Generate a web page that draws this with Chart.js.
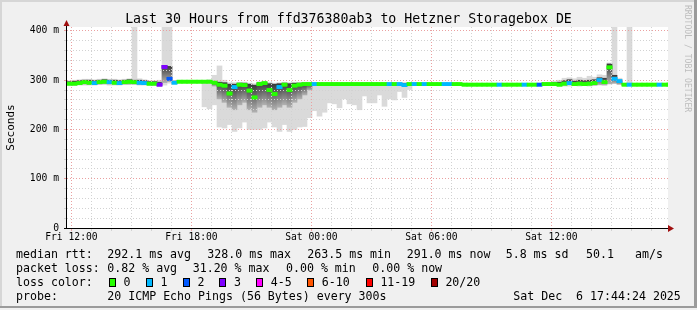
<!DOCTYPE html>
<html>
<head>
<meta charset="utf-8">
<script src="https://cdn.jsdelivr.net/npm/chart.js@4.4.1/dist/chart.umd.min.js"></script>
<style>
html, body { margin: 0; padding: 0; background: #f0f0f0; }
#wrap { position: relative; width: 697px; height: 310px; background: #f0f0f0; overflow: hidden;
        font-family: "DejaVu Sans Mono", monospace; color: #000; }
#wrap canvas { position: absolute; left: 0; top: 0; }
.t { position: absolute; white-space: pre; font-size: 11.6px; line-height: 14px; }
.box { position: absolute; width: 7px; height: 9px; box-sizing: border-box; border: 1px solid #000; }
#title { position: absolute; left: 0; width: 697px; top: 11px; text-align: center; font-size: 13.25px; line-height: 16px; white-space: pre; }
#rrd { position: absolute; left: 683px; top: 5px; font-size: 8.1px; line-height: 10px; color: #bdbdbd; writing-mode: vertical-rl; white-space: pre; }
</style>
</head>
<body>
<div id="wrap">
  <canvas id="myChart" width="697" height="310"></canvas>
  <div id="title">Last 30 Hours from ffd376380ab3 to Hetzner Storagebox DE</div>
  <div id="rrd">RRDTOOL / TOBI OETIKER</div>
  <div id="legend"></div>
  <div style="position:absolute;left:0;top:0;width:697px;height:2px;background:#d6d6d6"></div>
  <div style="position:absolute;left:0;top:0;width:2px;height:308px;background:#d6d6d6"></div>
  <div style="position:absolute;left:694px;top:0;width:3px;height:308px;background:#9b9b9b"></div>
  <div style="position:absolute;left:0;top:306px;width:697px;height:2px;background:#9b9b9b"></div>
</div>
<script>
// time axis in hours since Fri 00:00, one bar = 15 minutes
var startHour = 11.78;
var endHour = 41.83;
var stepHour = 0.25;

var median = [
    293, 293, 294, 296, 295, 294, 296, 297, 296, 295,
    294, 296, 297, 296, 295, 294, 293, 293, 291, 327,
    303, 295, 297, 297, 297, 297, 297, 297, 297, 295,
    291, 289, 273, 286, 291, 290, 279, 265, 292, 294,
    280, 272, 286, 291, 280, 289, 291, 292, 292, 292,
    292, 292, 292, 292, 292, 292, 292, 292, 292, 292,
    292, 292, 292, 292, 292, 292, 292, 290, 292, 292,
    292, 292, 292, 292, 292, 292, 292, 292, 292, 291,
    291, 291, 291, 291, 291, 291, 291, 291, 291, 291,
    291, 291, 291, 291, 291, 292, 292, 292, 291, 293,
    294, 292, 293, 292, 293, 294, 300, 296, 326, 303,
    298, 291, 291, 291, 291, 291, 291, 291, 291, 291,
    291
];

// index into lossColors
var lossClass = [
    0, 0, 0, 0, 0, 1, 0, 0, 1, 0,
    1, 0, 0, 0, 1, 1, 0, 0, 3, 3,
    2, 1, 0, 0, 0, 0, 0, 0, 0, 0,
    0, 0, 0, 1, 0, 0, 0, 0, 0, 0,
    0, 0, 1, 0, 0, 0, 0, 0, 0, 1,
    0, 0, 0, 0, 0, 0, 0, 0, 0, 0,
    0, 0, 0, 0, 1, 0, 1, 1, 0, 1,
    0, 1, 0, 0, 0, 1, 1, 0, 0, 0,
    0, 0, 0, 0, 0, 0, 1, 0, 0, 0,
    0, 1, 0, 0, 2, 0, 0, 0, 0, 0,
    1, 0, 0, 0, 0, 0, 1, 0, 0, 1,
    1, 0, 1, 0, 0, 0, 0, 0, 1, 0,
    0
];

// outer smoke (lowest / highest ping)
var smokeLo = [
    289, 289, 290, 290, 290, 290, 291, 291, 290, 290,
    290, 291, 291, 291, 290, 290, 289, 289, 287, 290,
    294, 293, 295, 295, 295, 295, 295, 246, 242, 250,
    205, 203, 210, 196, 203, 215, 200, 200, 200, 203,
    215, 205, 196, 210, 196, 200, 205, 206, 224, 238,
    227, 235, 254, 252, 244, 262, 252, 250, 240, 268,
    254, 254, 270, 247, 262, 260, 277, 265, 281, 289,
    290, 290, 290, 290, 290, 290, 290, 290, 290, 290,
    289, 289, 289, 289, 289, 289, 289, 289, 289, 289,
    289, 289, 289, 289, 289, 289, 289, 289, 288, 288,
    288, 289, 288, 289, 288, 289, 290, 289, 292, 293,
    291, 289, 289, 289, 289, 289, 289, 289, 289, 289,
    289
];
var smokeHi = [
    299, 300, 301, 302, 302, 301, 302, 303, 302, 302,
    301, 302, 303, 420, 303, 301, 299, 299, 300, 420,
    420, 299, 299, 299, 299, 299, 299, 299, 301, 310,
    329, 300, 295, 295, 296, 296, 294, 293, 297, 297,
    296, 294, 295, 296, 295, 296, 296, 296, 296, 295,
    294, 294, 294, 294, 294, 294, 294, 294, 294, 294,
    294, 294, 294, 294, 294, 294, 294, 294, 294, 294,
    294, 294, 294, 294, 294, 294, 294, 294, 294, 294,
    293, 293, 293, 293, 293, 293, 293, 293, 293, 293,
    293, 293, 293, 293, 293, 295, 296, 298, 300, 304,
    305, 303, 306, 304, 308, 306, 311, 310, 335, 420,
    304, 293, 420, 293, 293, 293, 293, 293, 293, 293,
    293
];

// inner (dark) smoke
var coreLo = [
    291, 291, 291, 292, 291, 291, 292, 293, 292, 292,
    291, 292, 292, 292, 291, 291, 291, 291, 289, 295,
    297, 294, 296, 296, 296, 296, 296, 295, 295, 288,
    262, 255, 245, 240, 250, 255, 240, 235, 245, 250,
    245, 240, 245, 250, 245, 255, 262, 270, 280, 289,
    290, 290, 290, 290, 290, 290, 290, 290, 290, 290,
    290, 290, 290, 290, 290, 290, 290, 290, 290, 290,
    290, 290, 290, 290, 290, 290, 290, 290, 290, 290,
    290, 290, 290, 290, 290, 290, 290, 290, 290, 290,
    290, 290, 290, 290, 290, 290, 290, 290, 290, 290,
    291, 290, 290, 290, 290, 290, 291, 291, 293, 294,
    292, 290, 290, 290, 290, 290, 290, 290, 290, 290,
    290
];
var coreHi = [
    297, 298, 299, 300, 300, 299, 300, 301, 300, 300,
    299, 300, 301, 300, 300, 299, 297, 297, 296, 330,
    328, 298, 298, 298, 298, 298, 298, 298, 298, 297,
    296, 295, 292, 292, 294, 294, 292, 290, 295, 295,
    293, 292, 293, 294, 293, 294, 294, 294, 294, 294,
    294, 294, 294, 294, 294, 294, 294, 294, 294, 294,
    294, 294, 294, 294, 294, 294, 294, 294, 294, 294,
    293, 293, 293, 293, 293, 293, 293, 293, 293, 293,
    293, 293, 293, 293, 293, 293, 293, 293, 293, 293,
    293, 293, 293, 293, 293, 294, 294, 295, 296, 299,
    301, 298, 300, 299, 300, 301, 305, 304, 333, 310,
    300, 293, 293, 293, 293, 293, 293, 293, 293, 293,
    293
];

var lossColors = ['#26ff00', '#00b8ff', '#0059ff', '#7e00ff', '#ff00ff', '#ff5500', '#ff0000', '#a10000'];
var lossLabels = ['0', '1', '2', '3', '4-5', '6-10', '11-19', '20/20'];

var xTickHours = [12, 18, 24, 30, 36];
var xTickLabels = ['Fri 12:00', 'Fri 18:00', 'Sat 00:00', 'Sat 06:00', 'Sat 12:00'];
var yTickValues = [0, 100, 200, 300, 400];
var yTickLabels = ['0', '100 m', '200 m', '300 m', '400 m'];

var statsRtt = ['292.1 ms avg', '328.0 ms max', '263.5 ms min', '291.0 ms now', '5.8 ms sd', '50.1', 'am/s'];
var statsLoss = ['0.82 % avg', '31.20 % max', '0.00 % min', '0.00 % now'];

var gridGrey = '#d2d2d2';
var gridRed = '#eaa0a0';

// ---- legend text (html) ----
var legend = document.getElementById('legend');
function addText(txt, x, y) {
    var s = document.createElement('div');
    s.className = 't';
    s.style.left = x + 'px';
    s.style.top = y + 'px';
    s.textContent = txt;
    legend.appendChild(s);
}
var rttX = [107.3, 207.3, 307.3, 406.7, 505.7, 586, 635];
var lossX = [107.3, 192.7, 286, 372.3];
var boxX = [108.7, 145.7, 182.7, 219.3, 256, 307, 365.7, 430.7];

addText('median rtt:', 16, 246.7);
statsRtt.forEach(function (s, i) { addText(s, rttX[i], 246.7); });
addText('packet loss:', 16, 260.7);
statsLoss.forEach(function (s, i) { addText(s, lossX[i], 260.7); });
addText('loss color:', 16, 274.7);
lossLabels.forEach(function (s, i) {
    var b = document.createElement('div');
    b.className = 'box';
    b.style.left = boxX[i] + 'px';
    b.style.top = '277.7px';
    b.style.background = lossColors[i];
    legend.appendChild(b);
    addText(s, boxX[i] + 14.7, 274.7);
});
addText('probe:', 16, 288.5);
addText('20 ICMP Echo Pings (56 Bytes) every 300s', 107.3, 288.5);
addText('Sat Dec  6 17:44:24 2025', 513.3, 288.5);

// ---- chart ----
var hours = median.map(function (v, i) { return startHour + (i + 0.5) * stepHour; });
function bars(lo, hi) {
    return hours.map(function (h, i) { return { x: h, y: [lo[i], hi[i]] }; });
}
var medLine = hours.map(function (h, i) { return { x: h, y: [median[i] - 3, median[i] + 3] }; });

// dark smoke fades from near-black at the top to mid grey at the bottom
function coreFill(c) {
    var y = c.chart.scales.y;
    var i = c.dataIndex;
    if (!y || i === undefined) return '#707070';
    var p0 = y.getPixelForValue(coreHi[i]);
    var p1 = y.getPixelForValue(coreLo[i]);
    if (!isFinite(p0) || !isFinite(p1) || p0 === p1) return '#707070';
    var g = c.chart.ctx.createLinearGradient(0, p0, 0, p1);
    g.addColorStop(0, '#3a3a3a');
    g.addColorStop(1, '#b0b0b0');
    return g;
}

var frame = {
    id: 'frame',
    beforeDraw: function (chart) {
        var a = chart.chartArea, c = chart.ctx;
        c.save();
        c.fillStyle = '#ffffff';
        c.fillRect(a.left, a.top, a.right - a.left, a.bottom - a.top);
        c.restore();
    },
    afterDraw: function (chart) {
        var a = chart.chartArea, c = chart.ctx;
        // grid sits over the smoke, but the median line stays on top of the grid
        c.save();
        c.beginPath();
        c.rect(a.left, a.top, a.right - a.left, a.bottom - a.top);
        c.clip();
        chart.getDatasetMeta(0).controller.draw();
        c.restore();

        c.save();
        c.strokeStyle = '#000';
        c.lineWidth = 1;
        c.beginPath();
        c.moveTo(a.left - 0.5, a.bottom + 0.5);
        c.lineTo(a.left - 0.5, a.top - 1);
        c.moveTo(a.left - 3, a.bottom + 0.5);
        c.lineTo(a.right, a.bottom + 0.5);
        c.stroke();
        c.fillStyle = '#a01010';
        c.beginPath();
        c.moveTo(a.left - 3.5, a.top - 1);
        c.lineTo(a.left + 2.5, a.top - 1);
        c.lineTo(a.left - 0.5, a.top - 7);
        c.closePath();
        c.fill();
        c.beginPath();
        c.moveTo(a.right, a.bottom - 3);
        c.lineTo(a.right, a.bottom + 4);
        c.lineTo(a.right + 6, a.bottom + 0.5);
        c.closePath();
        c.fill();
        c.restore();
    }
};

Chart.defaults.font.family = '"DejaVu Sans Mono", monospace';
Chart.defaults.color = '#000';

var ctx = document.getElementById('myChart').getContext('2d');
var myChart = new Chart(ctx, {
    type: 'bar',
    data: {
        datasets: [{
            label: 'median',
            data: medLine,
            backgroundColor: lossClass.map(function (k) { return lossColors[k]; }),
            grouped: false,
            order: 0
        }, {
            label: 'core',
            data: bars(coreLo, coreHi),
            backgroundColor: coreFill,
            grouped: false,
            order: 1
        }, {
            label: 'smoke',
            data: bars(smokeLo, smokeHi),
            backgroundColor: '#dadada',
            grouped: false,
            order: 2
        }]
    },
    options: {
        responsive: false,
        animation: false,
        layout: {
            padding: { left: 0, right: 29, top: 27, bottom: 62 }
        },
        datasets: {
            bar: { barPercentage: 1, categoryPercentage: 1, borderWidth: 0 }
        },
        plugins: {
            legend: { display: false },
            tooltip: { enabled: false }
        },
        scales: {
            x: {
                type: 'linear',
                min: startHour,
                max: endHour,
                offset: false,
                afterBuildTicks: function (axis) {
                    var t = [];
                    for (var h = Math.ceil(startHour); h <= endHour; h++) t.push({ value: h });
                    axis.ticks = t;
                },
                afterFit: function (scale) { scale.height = 20; },
                grid: {
                    offset: false,
                    z: 1,
                    tickLength: 3,
                    color: function (c) { return c.tick && c.tick.value % 6 === 0 ? gridRed : gridGrey; },
                    tickColor: function (c) { return c.tick && c.tick.value % 6 === 0 ? gridRed : gridGrey; }
                },
                border: { display: false, dash: [1, 2] },
                ticks: {
                    autoSkip: false,
                    maxRotation: 0,
                    padding: 1,
                    font: { size: 9.7 },
                    callback: function (v) {
                        var k = xTickHours.indexOf(v);
                        return k < 0 ? '' : xTickLabels[k];
                    }
                }
            },
            y: {
                min: 0,
                max: 408,
                afterBuildTicks: function (axis) {
                    var t = [];
                    for (var v = 0; v <= 400; v += 20) t.push({ value: v });
                    axis.ticks = t;
                },
                afterFit: function (scale) { scale.width = 67; },
                grid: {
                    z: 1,
                    tickLength: 3,
                    color: function (c) { return c.tick && c.tick.value % 100 === 0 ? gridRed : gridGrey; },
                    tickColor: function (c) { return c.tick && c.tick.value % 100 === 0 ? gridRed : gridGrey; }
                },
                border: { display: false, dash: [1, 2] },
                title: {
                    display: true,
                    text: 'Seconds',
                    font: { size: 11 },
                    padding: { top: 5, bottom: 0 }
                },
                ticks: {
                    autoSkip: false,
                    padding: 5,
                    font: { size: 9.7 },
                    callback: function (v) {
                        var k = yTickValues.indexOf(v);
                        return k < 0 ? '' : yTickLabels[k];
                    }
                }
            }
        }
    },
    plugins: [frame]
});
</script>
</body>
</html>
